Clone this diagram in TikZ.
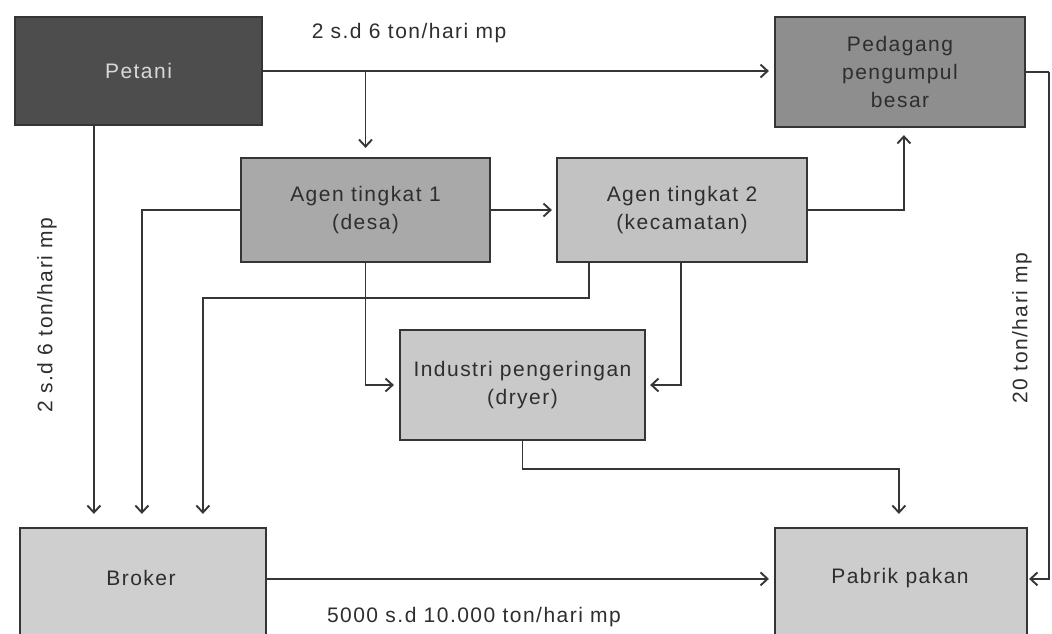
\documentclass[tikz,border=0pt]{standalone}
\usepackage{fontspec}
\setmainfont{Liberation Sans}[LetterSpace=7]
\usetikzlibrary{arrows.meta,calc}
\definecolor{linec}{HTML}{353535}
\definecolor{txtc}{HTML}{2E2E2E}
\definecolor{cpetani}{HTML}{4D4D4D}
\definecolor{cpedagang}{HTML}{8E8E8E}
\definecolor{cagen1}{HTML}{A9A9A9}
\definecolor{cagen2}{HTML}{C2C2C2}
\definecolor{cind}{HTML}{C9C9C9}
\definecolor{cbroker}{HTML}{CFCFCF}
\definecolor{cpabrik}{HTML}{CDCDCD}
\begin{document}
\begin{tikzpicture}[x=1pt,y=-1pt,
  every node/.style={font=\fontsize{21}{28}\selectfont, text=txtc},
  box/.style={draw=linec, line width=2.2pt, rectangle, inner sep=0pt, align=center},
  conn/.style={draw=linec, line width=1.9pt},
  arr/.style={conn, -{Straight Barb[length=7pt,width=13pt,line width=1.9pt]}},
  lbl/.style={inner sep=0pt}
]
\useasboundingbox (0,0) rectangle (1052,633);
\fill[white] (0,0) rectangle (1052,633);

% boxes
\node[box, fill=cpetani, minimum width=247pt, minimum height=108pt, text=white!85!black] (petani) at (138.5,71) {Petani};
\node[box, fill=cpedagang, minimum width=250pt, minimum height=110pt] (pedagang) at (900,72) {Pedagang\\pengumpul\\besar};
\node[box, fill=cagen1, minimum width=249pt, minimum height=104pt] (agen1) at (365.5,210) {Agen tingkat 1\\(desa)};
\node[box, fill=cagen2, minimum width=250pt, minimum height=104pt] (agen2) at (682,210) {Agen tingkat 2\\(kecamatan)};
\node[box, fill=cind, minimum width=245pt, minimum height=110pt] (ind) at (522.5,385) {Industri pengeringan\\(dryer)};
\node[box, fill=cbroker, minimum width=246pt, minimum height=120pt] (broker) at (143,588) {};
\node[lbl] (brokertxt) at (141,578) {Broker};
\node[box, fill=cpabrik, minimum width=252pt, minimum height=120pt] (pabrik) at (901,588) {};
\node[lbl] (pabriktxt) at (900,578) {Pabrik pakan};

% labels
\node[lbl] (l1) at (409,33) {2 s.d 6 ton/hari mp};
\node[lbl, rotate=90] (l2) at (47,315) {2 s.d 6 ton/hari mp};
\node[lbl, rotate=90] (l3) at (1022,328) {20 ton/hari mp};
\node[lbl] (l4) at (474,617) {5000 s.d 10.000 ton/hari mp};

% coordinates
\coordinate (rt) at ($(pedagang.east)+(23,0)$);

% connectors
\draw[arr, shorten >=5pt] (petani.east) -- (petani.east -| pedagang.west);
\draw[arr, shorten >=9pt] (agen1.north |- petani.east) -- (agen1.north);
\draw[arr, shorten >=13pt] ($(petani.south west)+(80,0)$) -- ($(broker.north west)+(75,0)$);
\draw[arr, shorten >=13pt] (agen1.west) -| ($(broker.north west)+(123,0)$);
\draw[arr, shorten >=4pt] (agen1.east) -- (agen2.west);
\draw[arr, shorten >=7pt] (agen2.east) -| ($(pedagang.south west)+(130,0)$);
\draw[arr, shorten >=13pt] ($(agen2.south west)+(33,0)$) |- ($(agen2.south west)+(33,35)$) -| ($(broker.north west)+(184,0)$);
\draw[arr, shorten >=5pt] (agen1.south) |- (ind.west);
\draw[arr, shorten >=4pt] ($(agen2.south west)+(125,0)$) |- (ind.east);
\draw[arr, shorten >=13pt] (ind.south) |- ($(ind.south)+(0,28)$) -| ($(pabrik.north west)+(125,0)$);
\draw[arr, shorten >=5pt] ($(broker.north east)+(0,52)$) -- ($(pabrik.north west)+(0,52)$);
\draw[conn] (pedagang.east) -- (rt);
\draw[arr, shorten >=1pt] (rt) |- ($(pabrik.north east)+(0,52)$);
\end{tikzpicture}
\end{document}
